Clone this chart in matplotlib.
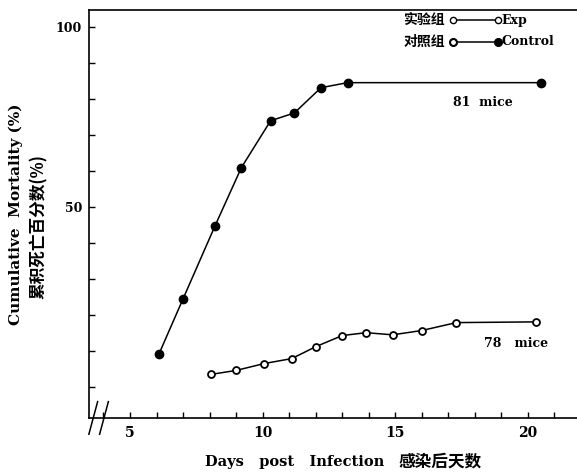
import matplotlib.pyplot as plt
from matplotlib.ticker import MultipleLocator, FixedLocator

plt.rcParams['font.family'] = ['DejaVu Serif', 'Noto Sans CJK SC']

# values
ctrl_days = [6.1, 7.0, 8.2, 9.2, 10.3, 11.2, 12.2, 13.2, 20.5]
ctrl_mort = [9.3, 24.5, 44.7, 61.0, 74.0, 76.2, 83.2, 84.6, 84.6]
exp_days = [8.05, 9.0, 10.05, 11.1, 12.0, 13.0, 13.9, 14.9, 16.0, 17.3, 20.3]
exp_mort = [3.5, 4.6, 6.5, 7.9, 11.2, 14.3, 15.1, 14.5, 15.7, 17.9, 18.1]
x_ticks = [5, 10, 15, 20]
y_ticks = [50, 100]

fig = plt.figure(figsize=(5.77, 4.76), dpi=100)
ax = fig.add_axes([0.154, 0.122, 0.846, 0.857])

ax.plot(ctrl_days, ctrl_mort, color='black', lw=1.1, marker='o', ms=6,
        mfc='black', mec='black')
ax.plot(exp_days, exp_mort, color='black', lw=1.1, marker='o', ms=5,
        mfc='white', mec='black', mew=1.3)

ax.set_xlim(3.45, 21.85)
ax.set_ylim(-8.6, 104.8)
ax.xaxis.set_major_locator(FixedLocator(x_ticks))
ax.xaxis.set_minor_locator(MultipleLocator(1))
ax.yaxis.set_major_locator(FixedLocator(y_ticks))
ax.yaxis.set_minor_locator(MultipleLocator(10))
ax.tick_params(which='both', direction='in', length=4, width=1)
ax.tick_params(axis='x', labelsize=10, pad=6)
ax.tick_params(axis='y', labelsize=9, pad=5)
for lab in ax.get_xticklabels() + ax.get_yticklabels():
    lab.set_fontweight('bold')

ax.spines['right'].set_visible(False)
for s in ['left', 'bottom', 'top']:
    ax.spines[s].set_linewidth(1.2)

# axis break marks
for dx in (0.0, 0.022):
    ax.plot([0.0 + dx, 0.018 + dx], [-0.04, 0.04], transform=ax.transAxes,
            color='black', lw=1.1, clip_on=False)

# legend drawn by hand: 实验组 o——o Exp / 对照组 ●——● Control
leg_x = [0.745, 0.838]
ax.plot(leg_x, [0.975, 0.975], transform=ax.transAxes, color='black', lw=1.1,
        marker='o', ms=4.5, mfc='white', mec='black', clip_on=False)
ax.plot(leg_x, [0.922, 0.922], transform=ax.transAxes, color='black', lw=1.1,
        marker='o', ms=5.5, mfc='black', mec='black', clip_on=False)
ax.plot([leg_x[0]], [0.922], transform=ax.transAxes, marker='o', ms=4.5,
        mfc='white', mec='black', ls='none', clip_on=False)
ax.text(0.73, 0.975, '实验组', transform=ax.transAxes, ha='right', va='center',
        fontsize=10, fontweight='bold', family=['Noto Sans CJK SC'])
ax.text(0.73, 0.922, '对照组', transform=ax.transAxes, ha='right', va='center',
        fontsize=10, fontweight='bold', family=['Noto Sans CJK SC'])
ax.text(0.845, 0.975, 'Exp', transform=ax.transAxes, ha='left', va='center',
        fontsize=9, fontweight='bold')
ax.text(0.845, 0.922, 'Control', transform=ax.transAxes, ha='left', va='center',
        fontsize=9, fontweight='bold')

ax.text(18.3, 79, '81  mice', ha='center', va='center', fontsize=9, fontweight='bold')
ax.text(19.55, 12, '78   mice', ha='center', va='center', fontsize=9, fontweight='bold')

fig.text(0.355, 0.03, 'Days   post   Infection', ha='left', va='center',
         fontsize=10.5, fontweight='bold')
fig.text(0.69, 0.03, '感染后天数', ha='left', va='center', fontsize=12,
         fontweight='bold', family=['Noto Sans CJK SC'])
fig.text(0.027, 0.55, 'Cumulative  Mortality (%)', rotation=90, ha='center',
         va='center', fontsize=11, fontweight='bold')
fig.text(0.068, 0.525, '累积死亡百分数(%)', rotation=90, ha='center', va='center',
         fontsize=12, fontweight='bold', family=['Noto Sans CJK SC', 'DejaVu Serif'])

fig.savefig('out.png', dpi=100)
